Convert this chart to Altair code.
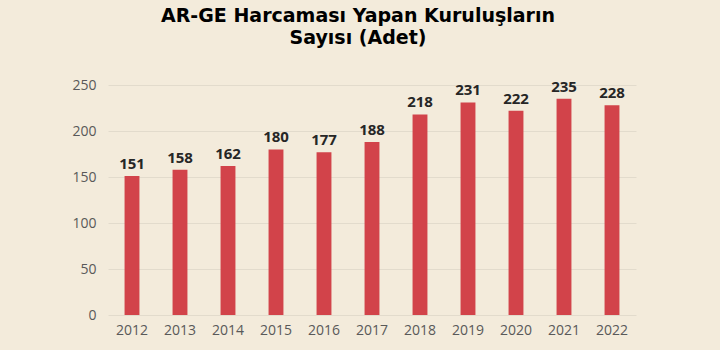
import altair as alt
import pandas as pd

years = ["2012", "2013", "2014", "2015", "2016", "2017", "2018", "2019", "2020", "2021", "2022"]
counts = [151, 158, 162, 180, 177, 188, 218, 231, 222, 235, 228]

df = pd.DataFrame({"year": years, "count": counts})

base = alt.Chart(df).encode(
    x=alt.X("year:N", sort=years, title=None,
            scale=alt.Scale(paddingInner=0.69, paddingOuter=0.345),
            axis=alt.Axis(labelAngle=0, labelFontSize=14, labelColor="#595959",
                          labelFont="Open Sans", domain=False, ticks=False, labelPadding=8)),
    y=alt.Y("count:Q", title=None,
            scale=alt.Scale(domain=[0, 250]),
            axis=alt.Axis(values=[0, 50, 100, 150, 200, 250], labelFontSize=14,
                          labelColor="#595959", labelFont="Open Sans", domain=False,
                          ticks=False, labelPadding=12, gridColor="#E2DBCC", gridWidth=1)),
)

bars = base.mark_bar(color="#D2434A")
labels = base.mark_text(dy=-12, fontSize=15, fontWeight="bold", color="#262626",
                        font="Open Sans").encode(text="count:Q")

chart = (bars + labels).properties(
    width=528, height=230,
    background="#F3EBDB",
    padding={"left": 108, "top": 85, "right": 84, "bottom": 35},
    autosize=alt.AutoSizeParams(type="none"),
    title=alt.TitleParams(
        text=["AR-GE Harcaması Yapan Kuruluşların", "Sayısı (Adet)"],
        font="DejaVu Sans", fontSize=19, fontWeight="bold", color="#000000",
        anchor="middle", dx=-14, offset=30, lineHeight=22,
    ),
).configure_view(stroke=None)

chart.save("out.html", embed_options={"renderer": "svg", "actions": False})
